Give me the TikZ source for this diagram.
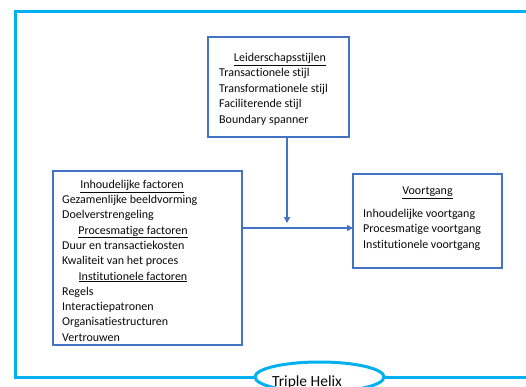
\documentclass[tikz,border=0pt]{standalone}
\usepackage{fontspec}
\setmainfont{Carlito}[Ligatures={NoCommon}]
\usetikzlibrary{arrows.meta,shapes.geometric}
\definecolor{boxblue}{HTML}{4472C4}
\definecolor{frame}{HTML}{00B0F0}
\definecolor{txt}{HTML}{0A0A0A}
\tikzset{
  box/.style={draw=boxblue, line width=1.2pt, fill=white, rectangle, inner sep=0pt},
  line/.style={anchor=base west, inner sep=0pt, text=txt, font=\fontsize{12}{14}\selectfont},
  head/.style={anchor=base, inner sep=0pt, text=txt, font=\fontsize{12}{14}\selectfont},
  conn/.style={draw=boxblue, line width=1.1pt, -{Triangle[length=6pt,width=6pt]}},
}
\begin{document}
\begin{tikzpicture}[x=1pt,y=-1pt]
\useasboundingbox (0,0) rectangle (526,387);
\clip (0,0) rectangle (526,387);
\fill[white] (0,0) rectangle (526,387);
% outer frame
\draw[frame, line width=3pt] (540,12) -- (15,12) -- (15,377) -- (540,377);
\node[draw=frame, line width=3pt, fill=white, ellipse, minimum width=129pt, minimum height=30pt, inner sep=0pt] (th) at (319.5,377) {};
\node[anchor=base west, inner sep=0pt, text=txt, font=\fontsize{15.5}{17}\selectfont] (thl) at (272,386) {Triple Helix};
% boxes
\node[box, minimum width=141pt, minimum height=100pt] (lead) at (278.5,87) {};
\node[box, minimum width=189pt, minimum height=174pt] (fac) at (147.5,258) {};
\node[box, minimum width=149pt, minimum height=94pt] (prog) at (427.5,221) {};
% leadership text
\node[head] (l0) at (280,62) {\underline{Leiderschapsstijlen}};
\node[line] (l1) at (219,77) {Transactionele stijl};
\node[line] (l2) at (219,92.5) {Transformationele stijl};
\node[line] (l3) at (219,108) {Faciliterende stijl};
\node[line] (l4) at (219,123.5) {Boundary spanner};
% factors text
\node[head] (f0) at (132,188.5) {\underline{Inhoudelijke factoren}};
\node[line] (f1) at (62,203.5) {Gezamenlijke beeldvorming};
\node[line] (f2) at (62,218.8) {Doelverstrengeling};
\node[head] (f3) at (133,234.1) {\underline{Procesmatige factoren}};
\node[line] (f4) at (62,249.4) {Duur en transactiekosten};
\node[line] (f5) at (62,264.7) {Kwaliteit van het proces};
\node[head] (f6) at (133,280) {\underline{Institutionele factoren}};
\node[line] (f7) at (62,295.3) {Regels};
\node[line] (f8) at (62,310.6) {Interactiepatronen};
\node[line] (f9) at (62,325.9) {Organisatiestructuren};
\node[line] (f10) at (62,341.2) {Vertrouwen};
% progress text
\node[head] (p0) at (427.5,194.5) {\underline{Voortgang}};
\node[line] (p1) at (363,217) {Inhoudelijke voortgang};
\node[line] (p2) at (363,232.5) {Procesmatige voortgang};
\node[line] (p3) at (363,248) {Institutionele voortgang};
% connectors
\coordinate (leadout) at (287,137);
\coordinate (meet) at (287,223);
\coordinate (facout) at (242,228);
\coordinate (progin) at (353,228);
\draw[conn] (leadout) -- (meet);
\draw[conn] (facout) -- (progin);
\end{tikzpicture}
\end{document}
